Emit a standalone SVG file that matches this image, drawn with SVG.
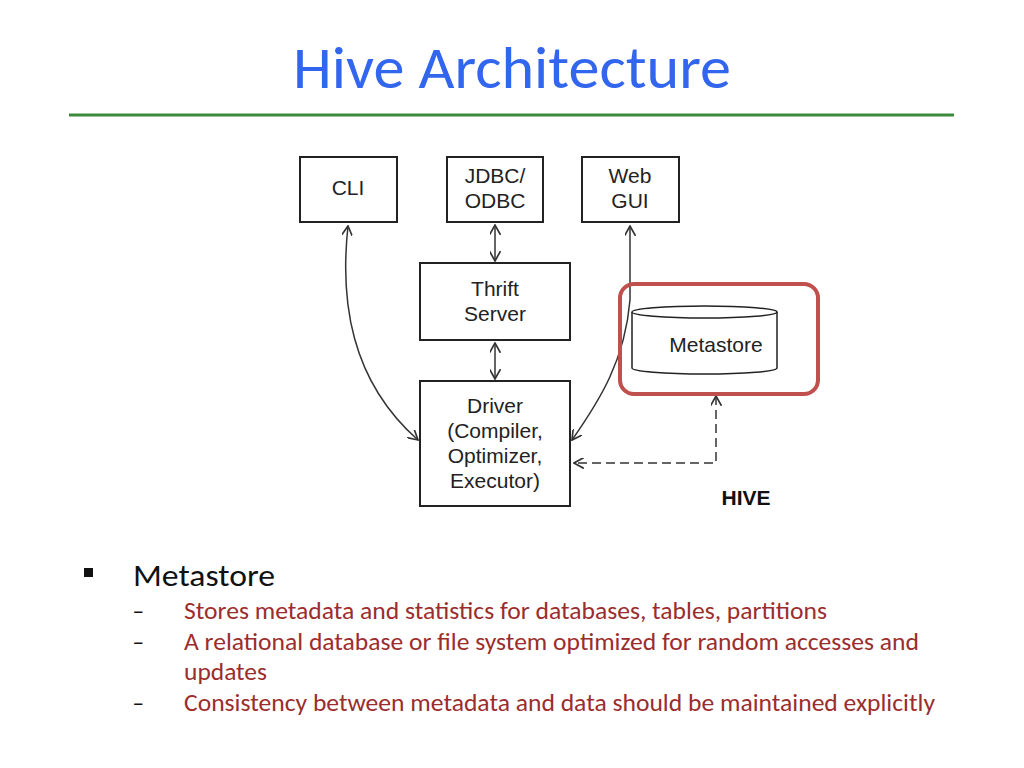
<svg xmlns="http://www.w3.org/2000/svg" width="1024" height="768" viewBox="0 0 1024 768">
<style>
.box{fill:#fff;stroke:#222;stroke-width:2}
.nt{font-family:"Liberation Sans",Arial,sans-serif;font-size:21px;fill:#222;text-anchor:middle}
.ln{fill:none;stroke:#333;stroke-width:1.5}
.b{font-family:Carlito,Calibri,"Liberation Sans",sans-serif;fill:#9b2d2d;font-size:24.5px}
</style>
<defs>
<marker id="a" viewBox="0 0 10 10" refX="9" refY="5" markerWidth="11" markerHeight="11" orient="auto-start-reverse" markerUnits="userSpaceOnUse"><path d="M0,0 L9,5 L0,10" fill="none" stroke="#333" stroke-width="1.5"/></marker>
</defs>
<rect width="1024" height="768" fill="#fff"/>
<text x="512" y="88" font-family="Carlito,Calibri,'Open Sans',sans-serif" font-size="60" fill="#3366ee" text-anchor="middle" textLength="438" lengthAdjust="spacingAndGlyphs">Hive Architecture</text>
<line x1="69" y1="115" x2="954" y2="115" stroke="#3c8a3c" stroke-width="3"/>
<g id="connectors">
<line class="ln" x1="495" y1="225" x2="495" y2="261" marker-start="url(#a)" marker-end="url(#a)"/>
<line class="ln" x1="495" y1="343" x2="495" y2="379" marker-start="url(#a)" marker-end="url(#a)"/>
<path class="ln" d="M348,226 C340,300 350,380 418,440" marker-start="url(#a)" marker-end="url(#a)"/>
<path class="ln" d="M630,226 L630,300 C625,360 600,400 572,440" marker-start="url(#a)" marker-end="url(#a)"/>
<path class="ln" d="M716,396 L716,463 L574,463" stroke-dasharray="9,5" stroke-width="2.5" marker-start="url(#a)" marker-end="url(#a)"/>
</g>
<g id="cli"><rect class="box" x="300" y="157" width="97" height="65"/><text class="nt" x="348" y="195">CLI</text></g>
<g id="jdbc"><rect class="box" x="447" y="157" width="96" height="65"/><text class="nt" x="495" y="183">JDBC/</text><text class="nt" x="495" y="208">ODBC</text></g>
<g id="web"><rect class="box" x="582" y="157" width="97" height="65"/><text class="nt" x="630" y="183">Web</text><text class="nt" x="630" y="208">GUI</text></g>
<g id="thrift"><rect class="box" x="420" y="263" width="150" height="77"/><text class="nt" x="495" y="296">Thrift</text><text class="nt" x="495" y="321">Server</text></g>
<g id="driver"><rect class="box" x="420" y="381" width="150" height="125"/><text class="nt" x="495" y="413">Driver</text><text class="nt" x="495" y="438">(Compiler,</text><text class="nt" x="495" y="463">Optimizer,</text><text class="nt" x="495" y="488">Executor)</text></g>
<g id="metastore">
<rect x="620" y="284" width="198" height="110" rx="14" fill="none" stroke="#c0504d" stroke-width="4"/>
<path d="M632,312 L632,368 A72.5,6 0 0 0 777,368 L777,312" fill="#fff" stroke="#222" stroke-width="1.5"/>
<ellipse cx="704.5" cy="312" rx="72.5" ry="6" fill="#fff" stroke="#222" stroke-width="1.5"/>
<text class="nt" x="716" y="352">Metastore</text>
</g>
<text x="746" y="505" font-family="'Liberation Sans',Arial,sans-serif" font-size="21" font-weight="bold" fill="#111" text-anchor="middle">HIVE</text>
<rect x="84" y="568" width="9" height="9" fill="#111"/>
<text x="133" y="586" font-family="Carlito,Calibri,'Open Sans',sans-serif" font-size="31" fill="#111" textLength="142" lengthAdjust="spacingAndGlyphs">Metastore</text>
<g font-family="Carlito,Calibri,'Open Sans',sans-serif" font-size="22" fill="#111">
<text x="133" y="619">−</text><text x="133" y="650">−</text><text x="133" y="711">−</text>
</g>
<text class="b" x="184" y="619" textLength="643" lengthAdjust="spacingAndGlyphs">Stores metadata and statistics for databases, tables, partitions</text>
<text class="b" x="184" y="650" textLength="735" lengthAdjust="spacingAndGlyphs">A relational database or file system optimized for random accesses and</text>
<text class="b" x="184" y="680" textLength="83" lengthAdjust="spacingAndGlyphs">updates</text>
<text class="b" x="184" y="711" textLength="751" lengthAdjust="spacingAndGlyphs">Consistency between metadata and data should be maintained explicitly</text>
</svg>
